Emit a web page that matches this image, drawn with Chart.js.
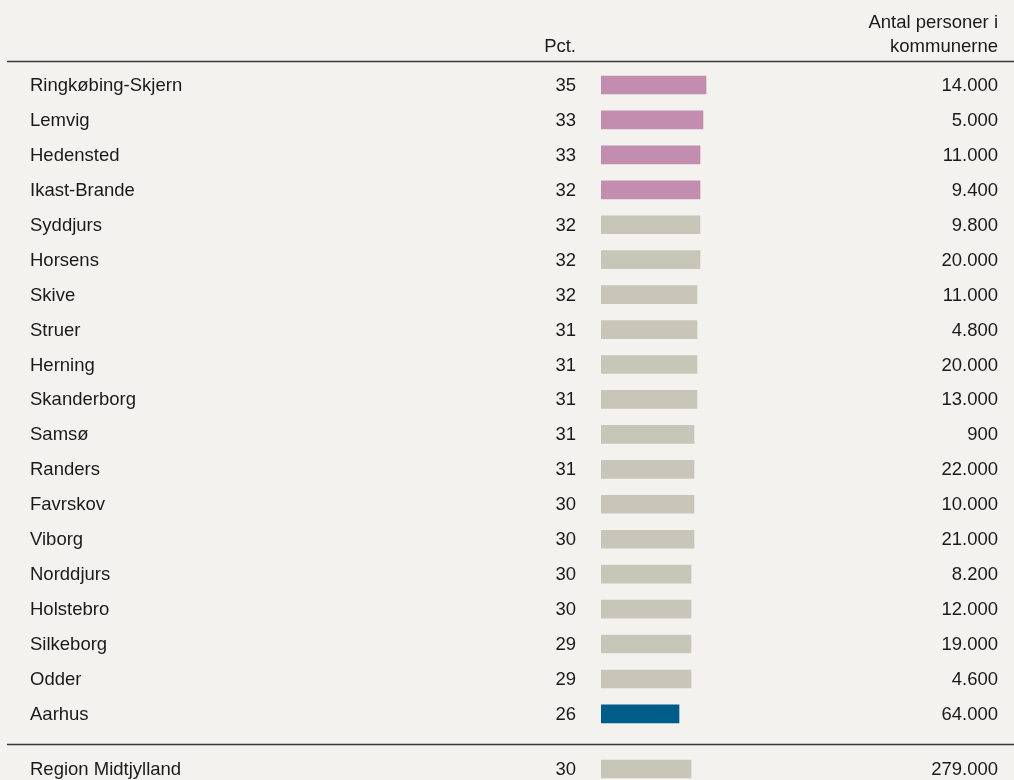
<!DOCTYPE html>
<html>
<head>
<meta charset="utf-8">
<script src="https://cdn.jsdelivr.net/npm/chart.js@4.4.1/dist/chart.umd.min.js"></script>
<style>
  html, body { margin: 0; background: #f3f2ee; }
  #wrap { position: relative; width: 1014px; height: 780px; }
  #main { position: absolute; left: 0; top: 0; }
  #total { position: absolute; left: 0; top: 740px; }
</style>
</head>
<body>
<div id="wrap">
  <canvas id="main" width="1014" height="740"></canvas>
  <canvas id="total" width="1014" height="40"></canvas>
</div>
<script>
const kommuner = ['Ringkøbing-Skjern', 'Lemvig', 'Hedensted', 'Ikast-Brande', 'Syddjurs', 'Horsens', 'Skive',
  'Struer', 'Herning', 'Skanderborg', 'Samsø', 'Randers', 'Favrskov', 'Viborg', 'Norddjurs', 'Holstebro',
  'Silkeborg', 'Odder', 'Aarhus'];
// shown percentages and the (unrounded) bar lengths
const pct = [35, 33, 33, 32, 32, 32, 32, 31, 31, 31, 31, 31, 30, 30, 30, 30, 29, 29, 26];
const barPct = [35, 34, 33, 33, 33, 33, 32, 32, 32, 32, 31, 31, 31, 31, 30, 30, 30, 30, 26];
const antal = [14000, 5000, 11000, 9400, 9800, 20000, 11000, 4800, 20000, 13000, 900, 22000, 10000, 21000,
  8200, 12000, 19000, 4600, 64000];

const regionLabel = ['Region Midtjylland'];
const regionPct = [30];
const regionBar = [30];
const regionAntal = [279000];

const PINK = '#c28daf', GREY = '#c8c5b9', BLUE = '#005c89';
const FONT = '18.5px "Liberation Sans", Arial, sans-serif';
const INK = '#1a1a1a';

const fmt = n => String(n).replace(/\B(?=(\d{3})+(?!\d))/g, '.');

const colors = kommuner.map((k, i) => k === 'Aarhus' ? BLUE : (i < 4 ? PINK : GREY));

// draws the table text next to the bars
const tableText = (labels, shares, counts, header) => ({
  id: 'tableText',
  afterDraw(chart) {
    const c = chart.ctx;
    const y = chart.scales.y;
    c.save();
    c.font = FONT;
    c.fillStyle = INK;
    c.textBaseline = 'alphabetic';
    labels.forEach((lab, i) => {
      const py = y.getPixelForValue(i) + 6;
      c.textAlign = 'left';
      c.fillText(lab, 30, py);
      c.textAlign = 'right';
      c.fillText(String(shares[i]), 576, py);
      c.fillText(fmt(counts[i]), 998, py);
    });
    c.strokeStyle = '#3a3a3a';
    c.lineWidth = 1.3;
    c.beginPath();
    if (header) {
      c.textAlign = 'right';
      c.fillText('Antal personer i', 998, 28);
      c.fillText('kommunerne', 998, 52);
      c.fillText('Pct.', 576, 52);
      c.moveTo(7, 61.5);
      c.lineTo(1014, 61.5);
    } else {
      c.moveTo(7, 4.5);
      c.lineTo(1014, 4.5);
    }
    c.stroke();
    c.restore();
  }
});

const baseOptions = (top, bottom) => ({
  indexAxis: 'y',
  responsive: false,
  animation: false,
  layout: { padding: { left: 601, right: 16, top: top, bottom: bottom } },
  scales: {
    x: { display: false, min: 0, max: 397 / 3 },
    y: { display: false }
  },
  plugins: { legend: { display: false }, tooltip: { enabled: false } }
});

new Chart(document.getElementById('main'), {
  type: 'bar',
  data: {
    labels: kommuner,
    datasets: [{ data: barPct, backgroundColor: colors, barThickness: 18 }]
  },
  options: baseOptions(67.5, 8.6),
  plugins: [tableText(kommuner, pct, antal, true)]
});

new Chart(document.getElementById('total'), {
  type: 'bar',
  data: {
    labels: regionLabel,
    datasets: [{ data: regionBar, backgroundColor: GREY, barThickness: 18 }]
  },
  options: baseOptions(18, 0),
  plugins: [tableText(regionLabel, regionPct, regionAntal, false)]
});
</script>
</body>
</html>
